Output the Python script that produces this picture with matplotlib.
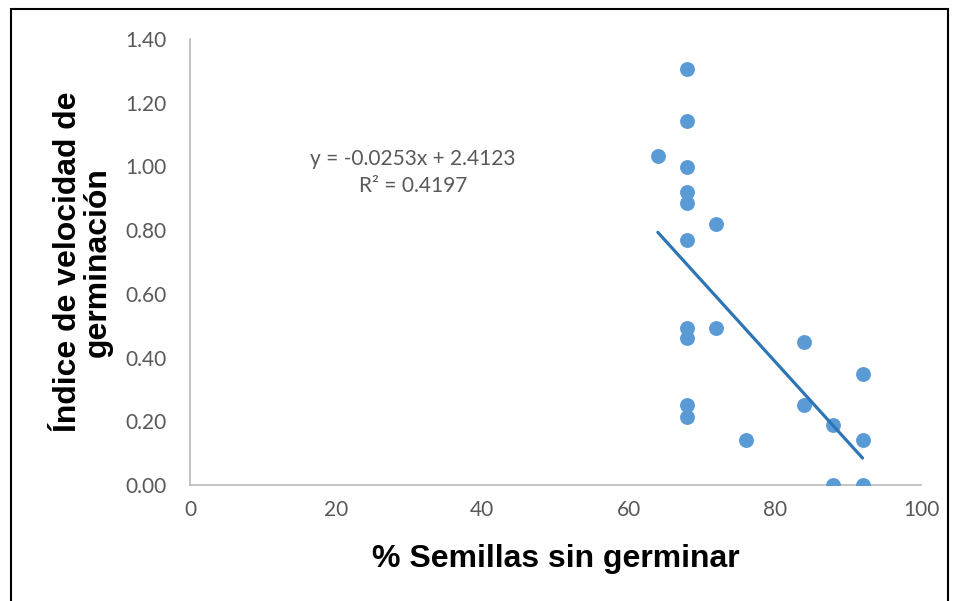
import matplotlib
matplotlib.use("Agg")
import matplotlib.pyplot as plt
from matplotlib.patches import Rectangle

# % seeds not germinated vs germination speed index
semillas = [64, 68, 68, 68, 68, 68, 68, 68, 68, 68, 68,
            72, 72, 76, 84, 84, 88, 88, 92, 92, 92]
indice = [1.034, 1.305, 1.142, 0.998, 0.920, 0.884, 0.770, 0.493, 0.462, 0.250, 0.213,
          0.820, 0.493, 0.141, 0.449, 0.250, 0.188, 0.0, 0.348, 0.141, 0.0]

slope = -0.0253
intercept = 2.4123
r2 = 0.4197
trend_x = [min(semillas), max(semillas)]

xticks = [0, 20, 40, 60, 80, 100]
yticks = [0.0, 0.2, 0.4, 0.6, 0.8, 1.0, 1.2, 1.4]

fig = plt.figure(figsize=(9.56, 6.01), dpi=100)
ax = fig.add_axes([190/956, 1-485/601, (921-190)/956, (485-39)/601])

ax.scatter(semillas, indice, s=115, color="#5B9BD5", zorder=3, linewidths=0)
ax.plot(trend_x, [slope*v + intercept for v in trend_x], color="#2E75B6", lw=2.3, zorder=4,
        solid_capstyle="round")

ax.set_xlim(0, 100)
ax.set_ylim(0, 1.4)
ax.set_xticks(xticks)
ax.set_yticks(yticks)
ax.set_yticklabels([f"{v:.2f}" for v in yticks])
for s in ["top", "right"]:
    ax.spines[s].set_visible(False)
for s in ["left", "bottom"]:
    ax.spines[s].set_color("#BFBFBF")
    ax.spines[s].set_linewidth(1.3)
ax.tick_params(length=0, labelsize=15, labelcolor="#595959")
ax.tick_params(axis="y", pad=17)
ax.tick_params(axis="x", pad=11)
for lab in ax.get_xticklabels() + ax.get_yticklabels():
    lab.set_family("Lato")

ax.set_xlabel("% Semillas sin germinar", fontsize=23, fontweight="bold",
              family="Liberation Sans", labelpad=17)
ax.set_ylabel("Índice de velocidad de\ngerminación", fontsize=23, fontweight="bold",
              family="Liberation Sans", labelpad=9, linespacing=1.0)

ax.text(30.5, 0.98, f"y = {slope}x + {intercept}\nR² = {r2}", ha="center", va="center",
        fontsize=15, color="#595959", family="Lato", linespacing=1.45)

fig.patches.append(Rectangle((11/956, -0.05), (948-11)/956, 1.05 - 9/601,
                             transform=fig.transFigure, fill=False, edgecolor="black", lw=1.5))

fig.savefig("out.png", dpi=100)
